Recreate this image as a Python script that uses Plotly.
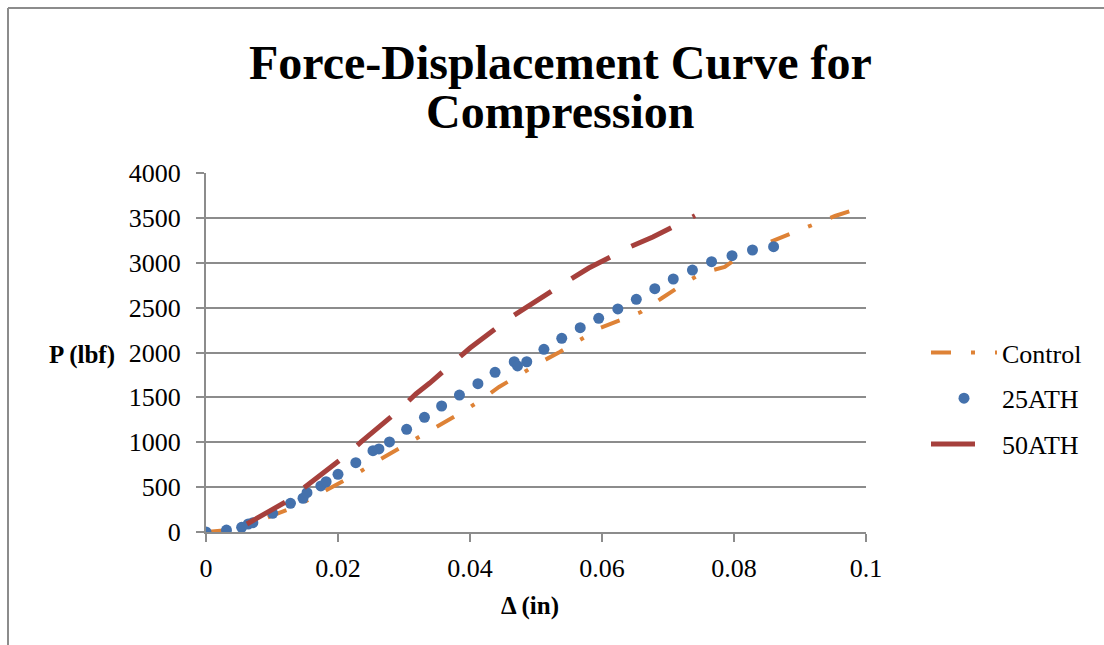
import plotly.graph_objects as go

# ---- data ----
control_x = [0.0, 0.0032, 0.0067, 0.0102, 0.0135, 0.0168, 0.0200, 0.0230, 0.0262, 0.0294,
             0.0323, 0.0355, 0.0386, 0.0412, 0.0444, 0.0477, 0.0505, 0.0536, 0.0567, 0.0597,
             0.0632, 0.0659, 0.0691, 0.0723, 0.0752, 0.0786, 0.0820, 0.0855, 0.0885, 0.0918,
             0.0953, 0.0988]
control_y = [0, 22, 78, 189, 279, 412, 546, 657, 802, 936,
             1058, 1203, 1326, 1448, 1616, 1760, 1883, 2006, 2139, 2273,
             2373, 2451, 2607, 2763, 2886, 2953, 3131, 3231, 3320, 3421,
             3521, 3605]

ath25_x = [0.0, 0.0031, 0.0054, 0.0064, 0.0071, 0.0101, 0.0128, 0.0147, 0.0153, 0.0174,
           0.0182, 0.0200, 0.0227, 0.0253, 0.0262, 0.0278, 0.0304, 0.0331, 0.0357, 0.0384,
           0.0412, 0.0438, 0.0467, 0.0472, 0.0486, 0.0512, 0.0539, 0.0567, 0.0595, 0.0624,
           0.0652, 0.0680, 0.0708, 0.0737, 0.0766, 0.0797, 0.0828, 0.0860]
ath25_y = [0, 22, 52, 89, 104, 208, 320, 376, 438, 513,
           560, 643, 772, 906, 925, 1003, 1144, 1278, 1404, 1526,
           1652, 1779, 1897, 1850, 1897, 2036, 2158, 2276, 2381, 2485,
           2593, 2711, 2819, 2919, 3012, 3079, 3142, 3179]

ath50_x = [0.0062, 0.0123, 0.0150, 0.0209, 0.0235, 0.0291, 0.0318, 0.0339, 0.0374, 0.0400,
           0.0458, 0.0488, 0.0548, 0.0580, 0.0642, 0.0677, 0.0741]
ath50_y = [89, 345, 501, 836, 1003, 1348, 1538, 1660, 1883, 2050,
           2373, 2518, 2797, 2941, 3175, 3287, 3525]

x_ticks = [0, 0.02, 0.04, 0.06, 0.08, 0.1]
x_tick_labels = ["0", "0.02", "0.04", "0.06", "0.08", "0.1"]
y_ticks = [0, 500, 1000, 1500, 2000, 2500, 3000, 3500, 4000]

title_lines = ["Force-Displacement Curve for", "Compression"]

ORANGE = "#DE8236"
BLUE = "#4471AC"
RED = "#A6403C"
GRID = "#8C8C8C"
FONT = "Liberation Serif"

fig = go.Figure()
fig.add_trace(go.Scatter(x=control_x, y=control_y, name="Control", mode="lines",
                         legendgroup="c",
                         line=dict(color=ORANGE, width=4, dash="20px,20px,4px,20px")))
fig.add_trace(go.Scatter(x=ath25_x, y=ath25_y, name="25ATH", mode="markers",
                         legendgroup="a25",
                         marker=dict(color=BLUE, size=11, line=dict(width=0))))
fig.add_trace(go.Scatter(x=ath50_x, y=ath50_y, name="50ATH", mode="lines",
                         legendgroup="a50",
                         line=dict(color=RED, width=5, dash="44px,24px")))

W, H = 1104, 645
L, R, T, B = 206, 866, 173, 532


def px(xp):
    return (xp - L) / (R - L)


def py(yp):
    return (B - yp) / (B - T)


fig.update_layout(
    width=W, height=H,
    margin=dict(l=L, r=W - R, t=T, b=H - B, pad=0),
    paper_bgcolor="white", plot_bgcolor="white",
    font=dict(family=FONT, size=26, color="black"),
    showlegend=True,
    legend=dict(x=px(926), y=py(329), xanchor="left", yanchor="top",
                font=dict(family=FONT, size=26), itemwidth=66,
                traceorder="grouped", tracegroupgap=9, bgcolor="rgba(0,0,0,0)"),
    xaxis=dict(range=[0, 0.1], tickvals=x_ticks, ticktext=x_tick_labels,
               showgrid=False, zeroline=False, showline=True, linecolor=GRID, linewidth=2,
               ticks="outside", ticklen=8, tickwidth=2, tickcolor=GRID,
               ticklabelstandoff=4,
               tickfont=dict(family=FONT, size=26)),
    yaxis=dict(range=[0, 4000], tickvals=y_ticks,
               showgrid=True, gridcolor=GRID, gridwidth=2, zeroline=False,
               showline=True, linecolor=GRID, linewidth=2,
               ticks="outside", ticklen=8, tickwidth=2, tickcolor=GRID,
               ticklabelstandoff=10,
               tickfont=dict(family=FONT, size=26)),
)

# title, one annotation per line to control the line spacing
fig.add_annotation(text="<b>" + title_lines[0] + "</b>", xref="paper", yref="paper",
                   x=px(560), y=py(63), showarrow=False, xanchor="center", yanchor="middle",
                   font=dict(family=FONT, size=48))
fig.add_annotation(text="<b>" + title_lines[1] + "</b>", xref="paper", yref="paper",
                   x=px(560), y=py(112), showarrow=False, xanchor="center", yanchor="middle",
                   font=dict(family=FONT, size=48))

fig.add_annotation(text="<b>P (lbf)</b>", xref="paper", yref="paper",
                   x=px(117), y=py(355), showarrow=False, xanchor="right", yanchor="middle",
                   font=dict(family=FONT, size=25))
fig.add_annotation(text="<b>Δ (in)</b>", xref="paper", yref="paper",
                   x=px(530), y=py(606), showarrow=False, xanchor="center", yanchor="middle",
                   font=dict(family=FONT, size=25))

# chart border (top and left edges visible)
fig.add_shape(type="line", xref="paper", yref="paper", x0=px(8), y0=py(8), x1=px(W + 5), y1=py(8),
              line=dict(color="#8C8C8C", width=2))
fig.add_shape(type="line", xref="paper", yref="paper", x0=px(8), y0=py(8), x1=px(8), y1=py(H + 5),
              line=dict(color="#8C8C8C", width=2))

fig.write_html("out.html")
